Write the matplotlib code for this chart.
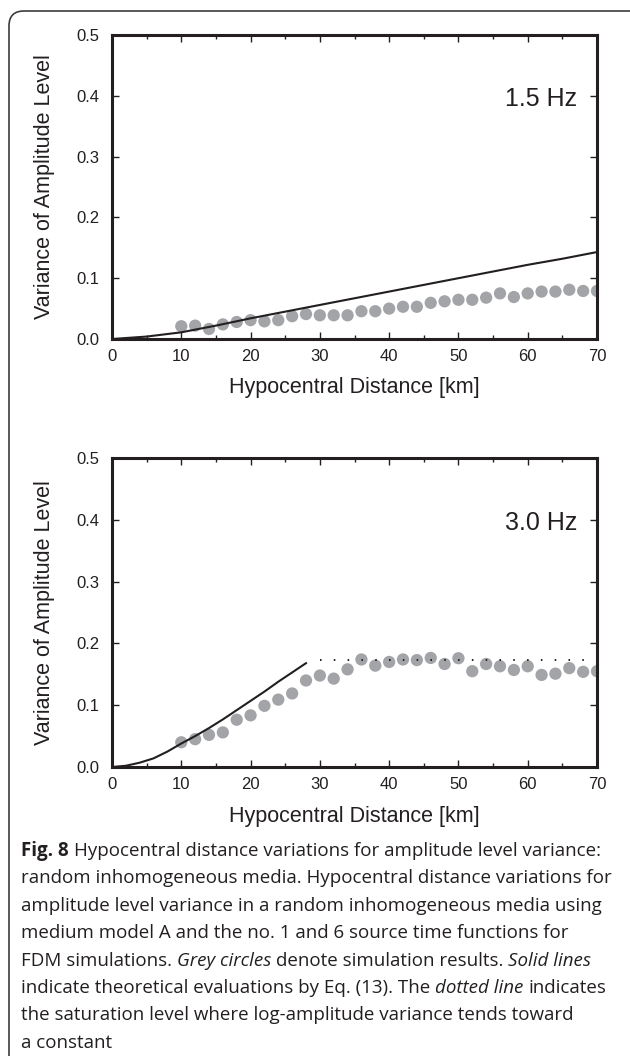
"""
Fig. 8 — variance of amplitude level vs hypocentral distance (1.5 Hz / 3.0 Hz)
"""

import matplotlib
matplotlib.use("Agg")
import matplotlib.pyplot as plt
from matplotlib.patches import FancyBboxPatch
from matplotlib.ticker import MultipleLocator
from matplotlib.transforms import IdentityTransform


# ─── Данные ──────────────────────────────────────────────

dist = list(range(10, 71, 2))

var_15hz = [0.021, 0.022, 0.0165, 0.024, 0.028, 0.031, 0.029, 0.031, 0.0375, 0.041,
            0.039, 0.039, 0.039, 0.0457, 0.0457, 0.050, 0.053, 0.053, 0.0595, 0.062,
            0.0645, 0.0645, 0.068, 0.075, 0.069, 0.075, 0.078, 0.078, 0.081, 0.079,
            0.079]

var_30hz = [0.040, 0.045, 0.052, 0.056, 0.0765, 0.0836, 0.099, 0.109, 0.119, 0.140,
            0.148, 0.143, 0.158, 0.174, 0.164, 0.170, 0.174, 0.173, 0.1765, 0.1667,
            0.176, 0.155, 0.1667, 0.163, 0.157, 0.163, 0.149, 0.151, 0.160, 0.154,
            0.155]

theory_15_x = [0, 5, 10, 15, 20, 25, 30, 35, 40, 45, 50, 55, 60, 65, 70]
theory_15_y = [0.0, 0.004, 0.011, 0.022, 0.034, 0.045, 0.056, 0.067, 0.078, 0.089,
               0.100, 0.111, 0.122, 0.132, 0.143]

theory_30_x = [0, 2, 4, 6, 8, 10, 12, 14, 16, 18, 20, 22, 24, 26, 28]
theory_30_y = [0.0, 0.002, 0.007, 0.014, 0.025, 0.038, 0.050, 0.063, 0.077, 0.092,
               0.107, 0.122, 0.138, 0.153, 0.168]

saturation_x = [30, 70]
saturation_level = 0.173

freq_labels = ["1.5 Hz", "3.0 Hz"]

caption_lines = [
    [("Fig. 8", "bold"), ("Hypocentral distance variations for amplitude level variance:", "normal")],
    [("random inhomogeneous media. Hypocentral distance variations for", "normal")],
    [("amplitude level variance in a random inhomogeneous media using", "normal")],
    [("medium model A and the no. 1 and 6 source time functions for", "normal")],
    [("FDM simulations.", "normal"), ("Grey circles", "italic"),
     ("denote simulation results.", "normal"), ("Solid lines", "italic")],
    [("indicate theoretical evaluations by Eq. (13). The", "normal"),
     ("dotted line", "italic"), ("indicates", "normal")],
    [("the saturation level where log-amplitude variance tends toward", "normal")],
    [("a constant", "normal")],
]


# ─── Стиль ───────────────────────────────────────────────

INK = "#231f20"
DOT_GREY = "#a3a4a8"
FRAME = "#3c3c3c"
PLOT_FONT = "Liberation Sans"
CAPTION_FONT = "Open Sans"
CAPTION_SIZE = 13.5

W, H = 630, 1056
DPI = 100

plt.rcParams["font.family"] = [PLOT_FONT, "DejaVu Sans"]


def _axes_rect(left, top, right, bottom):
    """пиксели (от верхнего левого угла) -> rect в долях фигуры"""
    return [left / W, 1 - bottom / H, (right - left) / W, (bottom - top) / H]


def _style_axes(ax, label):
    for spine in ax.spines.values():
        spine.set_linewidth(2.2)
        spine.set_color(INK)
    ax.set_xlim(0, 70)
    ax.set_ylim(0, 0.5)
    ax.xaxis.set_major_locator(MultipleLocator(10))
    ax.xaxis.set_minor_locator(MultipleLocator(5))
    ax.yaxis.set_major_locator(MultipleLocator(0.1))
    ax.yaxis.set_major_formatter(lambda v, _: f"{v:.1f}")
    ax.tick_params(which="both", direction="in", top=True, right=True,
                   colors=INK, labelsize=12, width=1.0)
    ax.tick_params(which="major", length=5)
    ax.tick_params(which="minor", length=3)
    ax.tick_params(axis="x", pad=7)
    ax.tick_params(axis="y", pad=9)

    ax.text(0.5, -0.178, "Hypocentral Distance [km]", transform=ax.transAxes,
            ha="center", va="baseline", fontsize=15.5, color=INK)
    ax.text(-0.14, 0.5, "Variance of Amplitude Level", transform=ax.transAxes,
            ha="center", va="center", rotation=90, fontsize=15.5, color=INK)
    ax.text(0.885, 0.79, label, transform=ax.transAxes,
            ha="center", va="center", fontsize=18, color=INK)


fig = plt.figure(figsize=(W / DPI, H / DPI), dpi=DPI)
fig.patch.set_facecolor("white")

ax1 = fig.add_axes(_axes_rect(112, 35, 597, 339))
ax2 = fig.add_axes(_axes_rect(112, 458, 597, 767))

# 1.5 Hz
ax1.scatter(dist, var_15hz, s=78, color=DOT_GREY, edgecolors="none", zorder=2)
ax1.plot(theory_15_x, theory_15_y, color=INK, linewidth=1.5, zorder=3)
_style_axes(ax1, freq_labels[0])

# 3.0 Hz
ax2.scatter(dist, var_30hz, s=78, color=DOT_GREY, edgecolors="none", zorder=2)
ax2.plot(theory_30_x, theory_30_y, color=INK, linewidth=1.5, zorder=3)
ax2.hlines(saturation_level, saturation_x[0], saturation_x[1], colors=INK,
           linewidth=1.4, linestyles=(0, (0.8, 6.3)), zorder=3)
_style_axes(ax2, freq_labels[1])

# Рамка вокруг рисунка (скруглённый угол слева сверху)
frame = FancyBboxPatch((9, -40), 660, H - 11 + 40,
                       boxstyle="round,pad=0,rounding_size=15",
                       transform=IdentityTransform(), facecolor="none",
                       edgecolor=FRAME, linewidth=1.2)
fig.add_artist(frame)

# Подпись с жирными/курсивными фрагментами
renderer = fig.canvas.get_renderer()
probe_a = fig.text(0, 0, "x x", family=CAPTION_FONT, fontsize=CAPTION_SIZE)
probe_b = fig.text(0, 0, "xx", family=CAPTION_FONT, fontsize=CAPTION_SIZE)
space_px = (probe_a.get_window_extent(renderer).width
            - probe_b.get_window_extent(renderer).width)
probe_a.remove()
probe_b.remove()

y_px = 851
for line in caption_lines:
    x_px = 21
    for text, style in line:
        kw = dict(family=CAPTION_FONT, fontsize=CAPTION_SIZE, color=INK, va="center")
        if style == "bold":
            kw["fontweight"] = "bold"
        elif style == "italic":
            kw["fontstyle"] = "italic"
        t = fig.text(x_px / W, 1 - y_px / H, text, **kw)
        x_px += t.get_window_extent(renderer).width + space_px
    y_px += 27.4

fig.savefig("out.png", dpi=DPI, facecolor="white")
plt.close(fig)
